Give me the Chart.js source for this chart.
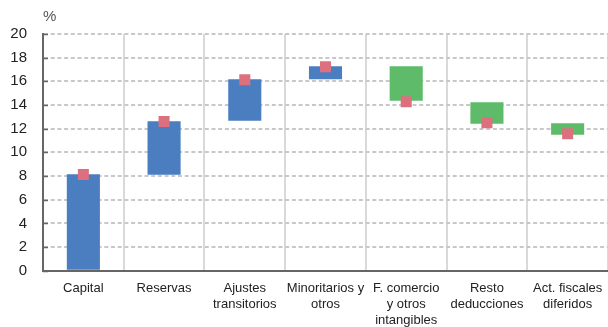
<!DOCTYPE html>
<html>
<head>
<meta charset="utf-8">
<script src="https://cdn.jsdelivr.net/npm/chart.js@4/dist/chart.umd.min.js"></script>
<style>
  html, body { margin: 0; padding: 0; background: #fff; }
  #wrap { position: relative; width: 608px; height: 327px; }
  #unit { position: absolute; left: 43px; top: 7px; font: 15px "Liberation Sans", Arial, sans-serif; color: #555; }
</style>
</head>
<body>
<div id="wrap">
  <canvas id="c" width="608" height="327"></canvas>
  <div id="unit">%</div>
</div>
<script>
// Waterfall of capital components (%)
const categories = [
  ["Capital"],
  ["Reservas"],
  ["Ajustes", "transitorios"],
  ["Minoritarios y", "otros"],
  ["F. comercio", "y otros", "intangibles"],
  ["Resto", "deducciones"],
  ["Act. fiscales", "diferidos"]
];
const barLow  = [0,    8.10, 12.66, 16.18, 14.35, 12.41, 11.48];
const barHigh = [8.15, 12.63, 16.18, 17.27, 17.27, 14.24, 12.46];
const markerValues = [8.13, 12.60, 16.13, 17.23, 14.28, 12.50, 11.58];
const yTicks = [0, 2, 4, 6, 8, 10, 12, 14, 16, 18, 20];

const BLUE = "#4a7ec1";
const GREEN = "#5dbb6a";
const PINK = "#dc707f";
const barColors = barHigh.map((h, i) => i < 4 ? BLUE : GREEN);

const FONT = '"Liberation Sans", Arial, sans-serif';

// short inward tick marks on the value axis
const innerTicks = {
  id: "innerTicks",
  afterDraw(chart) {
    const y = chart.scales.y, ctx = chart.ctx, left = chart.chartArea.left;
    ctx.save();
    ctx.strokeStyle = "#666";
    ctx.lineWidth = 1.5;
    yTicks.forEach(v => {
      const py = Math.round(y.getPixelForValue(v)) + 0.5;
      ctx.beginPath();
      ctx.moveTo(left, py);
      ctx.lineTo(left + 5, py);
      ctx.stroke();
    });
    ctx.restore();
  }
};

new Chart(document.getElementById("c"), {
  data: {
    labels: categories,
    datasets: [
      {
        type: "line",
        data: markerValues,
        showLine: false,
        pointStyle: "rect",
        pointRadius: 7.8,
        pointHoverRadius: 7.8,
        pointBackgroundColor: PINK,
        pointBorderWidth: 0,
        order: 0
      },
      {
        type: "bar",
        data: barLow.map((lo, i) => [lo, barHigh[i]]),
        backgroundColor: barColors,
        borderWidth: 0,
        categoryPercentage: 1,
        barPercentage: 0.41,
        order: 1
      }
    ]
  },
  plugins: [innerTicks],
  options: {
    responsive: false,
    animation: false,
    layout: { autoPadding: false, padding: { top: 34, left: 0, right: -1, bottom: 0 } },
    plugins: { legend: { display: false }, tooltip: { enabled: false } },
    scales: {
      x: {
        offset: true,
        grid: { color: "#d9d9d9", lineWidth: 2, drawTicks: false, offset: true },
        border: { color: "#666", width: 2 },
        ticks: { color: "#222", font: { family: FONT, size: 13, lineHeight: 1.23 }, padding: 10, maxRotation: 0, autoSkip: false },
        afterFit(s) { s.height = 56.3; s.paddingLeft = 0; s.paddingRight = 0; }
      },
      y: {
        min: 0,
        max: 20,
        afterBuildTicks(s) { s.ticks = yTicks.map(v => ({ value: v })); },
        grid: { color: "#c8c8c8", lineWidth: 2, drawTicks: false },
        border: { color: "#666", width: 2, dash: [4, 2.7] },
        ticks: { color: "#222", font: { family: FONT, size: 15 }, padding: 16 },
        afterFit(s) { s.width = 43; }
      }
    }
  }
});
</script>
</body>
</html>
